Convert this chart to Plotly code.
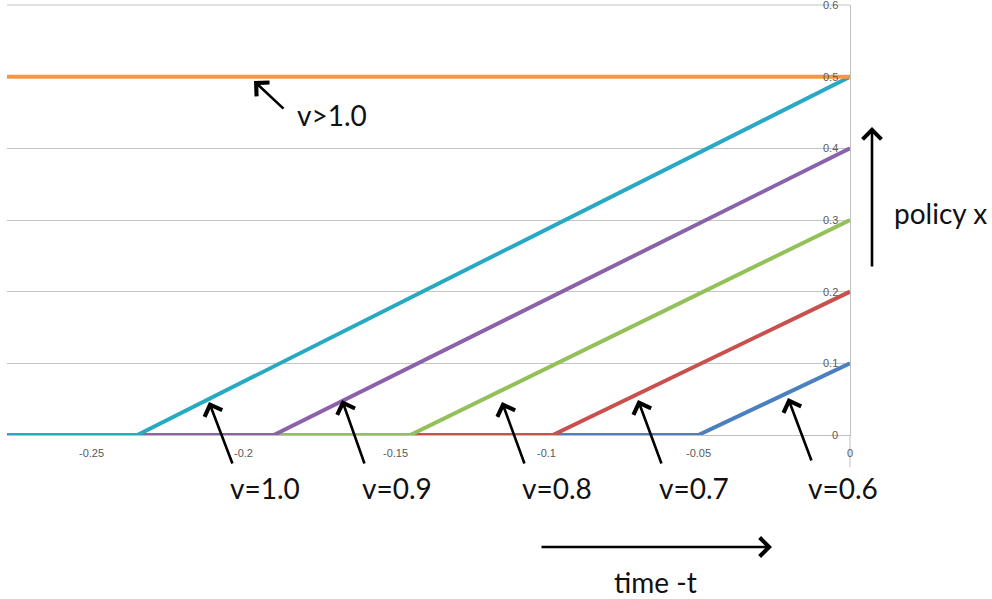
import plotly.graph_objects as go

# ---- data ----
x_start = -0.278
kink_x = {"v=0.6": -0.05, "v=0.7": -0.098, "v=0.8": -0.145, "v=0.9": -0.19, "v=1.0": -0.235}
end_y = {"v=0.6": 0.1, "v=0.7": 0.2, "v=0.8": 0.3, "v=0.9": 0.4, "v=1.0": 0.5}
series_order = ["v=0.6", "v=0.7", "v=0.8", "v=0.9", "v=1.0"]
colors = {"v=0.6": "#4a80bf", "v=0.7": "#c8504d", "v=0.8": "#94c05a",
          "v=0.9": "#8a62aa", "v=1.0": "#27a9c4", "v>1.0": "#f79646"}
flat_x = [x_start, 0.0]
flat_y = [0.5, 0.5]
x_ticks = [-0.25, -0.2, -0.15, -0.1, -0.05, 0]
x_tick_text = ["-0.25", "-0.2", "-0.15", "-0.1", "-0.05", "0"]
y_ticks = [0, 0.1, 0.2, 0.3, 0.4, 0.5, 0.6]
y_tick_text = ["0", "0.1", "0.2", "0.3", "0.4", "0.5", "0.6"]

W, H = 992, 599
ML, MR, MT, MB = 7, 142, 5, 164
PW, PH = W - ML - MR, H - MT - MB

def px(x):
    return (x - ML) / PW

def py(y):
    return (MT + PH - y) / PH

fig = go.Figure()
for name in series_order:
    fig.add_trace(go.Scatter(
        x=[x_start, kink_x[name], 0.0], y=[0, 0, end_y[name]],
        mode="lines", line=dict(color=colors[name], width=4),
        name=name, showlegend=False, hoverinfo="skip"))
fig.add_trace(go.Scatter(x=flat_x, y=flat_y, mode="lines",
                         line=dict(color=colors["v>1.0"], width=4),
                         showlegend=False, hoverinfo="skip"))

# arrows: (head_px, tail_px)
arrows = [((254, 81), (285, 110)),
          ((209, 402), (233, 465)),
          ((342, 400), (365, 465)),
          ((502, 402), (525, 465)),
          ((638, 400), (662, 465)),
          ((788, 398), (812, 462)),
          ((872, 127), (872, 268)),
          ((772, 547), (540, 547))]
annotations = []
for (hx, hy), (tx, ty) in arrows:
    annotations.append(dict(x=px(hx), y=py(hy), xref="paper", yref="paper",
                            ax=tx - hx, ay=ty - hy, text="", showarrow=True,
                            arrowhead=4, arrowsize=1.4, arrowwidth=2.6,
                            arrowcolor="#000000"))
labels = [("v>1.0", 332, 115), ("v=1.0", 265, 488), ("v=0.9", 397, 488),
          ("v=0.8", 557, 488), ("v=0.7", 694, 488), ("v=0.6", 843, 488),
          ("policy x", 940, 213), ("time -t", 655, 582)]
for t, x, y in labels:
    annotations.append(dict(x=px(x), y=py(y), xref="paper", yref="paper",
                            text=t, showarrow=False, xanchor="center", yanchor="middle",
                            font=dict(family="Lato", size=28, color="#111111")))

tick_font = dict(family="Liberation Sans", size=11, color="#595959")
# tick labels placed through the axes
for v, t in zip(x_ticks, x_tick_text):
    annotations.append(dict(x=v, y=0, xref="x", yref="paper", text=t, showarrow=False,
                            xanchor="center", yanchor="middle", yshift=-18, font=tick_font))
for v, t in zip(y_ticks, y_tick_text):
    annotations.append(dict(x=1, y=v, xref="paper", yref="y", text=t, showarrow=False,
                            xanchor="right", yanchor="middle", xshift=-10, font=tick_font))

fig.update_layout(
    width=W, height=H, margin=dict(l=ML, r=MR, t=MT, b=MB),
    paper_bgcolor="white", plot_bgcolor="white",
    annotations=annotations,
    shapes=[dict(type="line", xref="paper", yref="paper", x0=1, x1=1, y0=0, y1=-0.075,
                 line=dict(color="#bfbfbf", width=1)),
            dict(type="line", xref="paper", yref="paper", x0=0, x1=1, y0=1, y1=1,
                 line=dict(color="#c4c4c4", width=1), layer="below")],
)
fig.update_xaxes(range=[x_start, 0], tickvals=x_ticks, showticklabels=False,
                 showgrid=False, zeroline=False, showline=True, linecolor="#bfbfbf")
fig.update_yaxes(range=[0, 0.6], tickvals=y_ticks, side="right", showticklabels=False,
                 showgrid=True, gridcolor="#c4c4c4",
                 zeroline=False, showline=True, linecolor="#bfbfbf")

fig.write_html("out.html", config={"displayModeBar": False},
               post_script="document.body.style.margin='0';")
